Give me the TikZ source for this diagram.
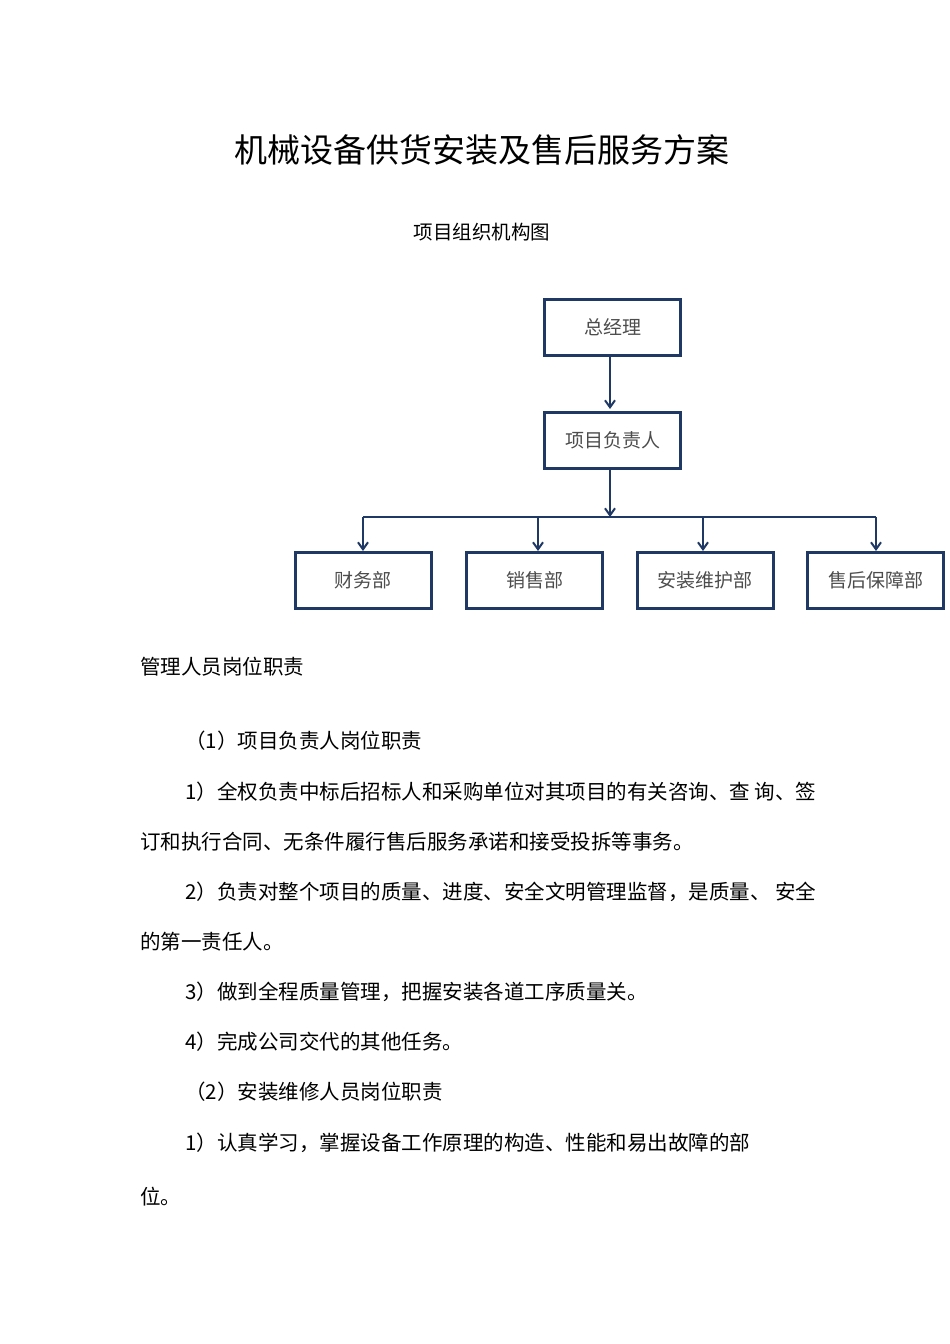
\documentclass[tikz,border=0pt]{standalone}
\usepackage{fontspec}
\newfontfamily\cjk{Noto Sans CJK SC}
\usetikzlibrary{arrows.meta}
\definecolor{navy}{HTML}{1F3864}
\begin{document}
\begin{tikzpicture}[x=1pt,y=-1pt,
  box/.style={draw=navy,line width=3pt,minimum width=136pt,minimum height=56pt,inner sep=0pt,font=\cjk\fontsize{19}{21}\selectfont,text=black!70},
  conn/.style={draw=navy,line width=2.4pt,-{Straight Barb[length=7pt,width=10pt,line width=2pt]}},
  body/.style={anchor=west,inner sep=0pt,font=\cjk\fontsize{20.5}{23}\selectfont}]
\useasboundingbox (0,0) rectangle (950,1344);
\node[font=\cjk\fontsize{33}{36}\selectfont] (title) at (482,150) {机械设备供货安装及售后服务方案};
\node[font=\cjk\fontsize{19.5}{22}\selectfont] (sub) at (482,232) {项目组织机构图};
\node[box] (gm) at (612.5,327.5) {总经理};
\node[box] (pm) at (612.5,440) {项目负责人};
\node[box] (fin) at (363,580.5) {财务部};
\node[box] (sal) at (534.5,580.5) {销售部};
\node[box] (ins) at (705,580.5) {安装维护部};
\node[box] (svc) at (875.5,580.5) {售后保障部};
\coordinate (j) at (610,517);
\coordinate (jl) at (363,517);
\coordinate (jr) at (876,517);
\draw[conn] (610,357) -- (610,409);
\draw[conn] (610,470) -- (j);
\draw[navy,line width=2.4pt] (jl) -- (jr);
\draw[conn] (jl) -- (363,551);
\draw[conn] (538,517) -- (538,551);
\draw[conn] (703,517) -- (703,551);
\draw[conn] (jr) -- (876,551);
\node[body] (t0) at (140,667) {管理人员岗位职责};
\node[body] (t1) at (185,741) {（1）项目负责人岗位职责};
\node[body] (t2) at (185,792) {1）全权负责中标后招标人和采购单位对其项目的有关咨询、查\ 询、签};
\node[body] (t3) at (140,842) {订和执行合同、无条件履行售后服务承诺和接受投拆等事务。};
\node[body] (t4) at (185,892) {2）负责对整个项目的质量、进度、安全文明管理监督，是质量、\ 安全};
\node[body] (t5) at (140,942) {的第一责任人。};
\node[body] (t6) at (185,992) {3）做到全程质量管理，把握安装各道工序质量关。};
\node[body] (t7) at (185,1042) {4）完成公司交代的其他任务。};
\node[body] (t8) at (185,1092) {（2）安装维修人员岗位职责};
\node[body] (t9) at (185,1143) {1）认真学习，掌握设备工作原理的构造、性能和易出故障的部};
\node[body] (t10) at (140,1197) {位。};
\end{tikzpicture}
\end{document}
